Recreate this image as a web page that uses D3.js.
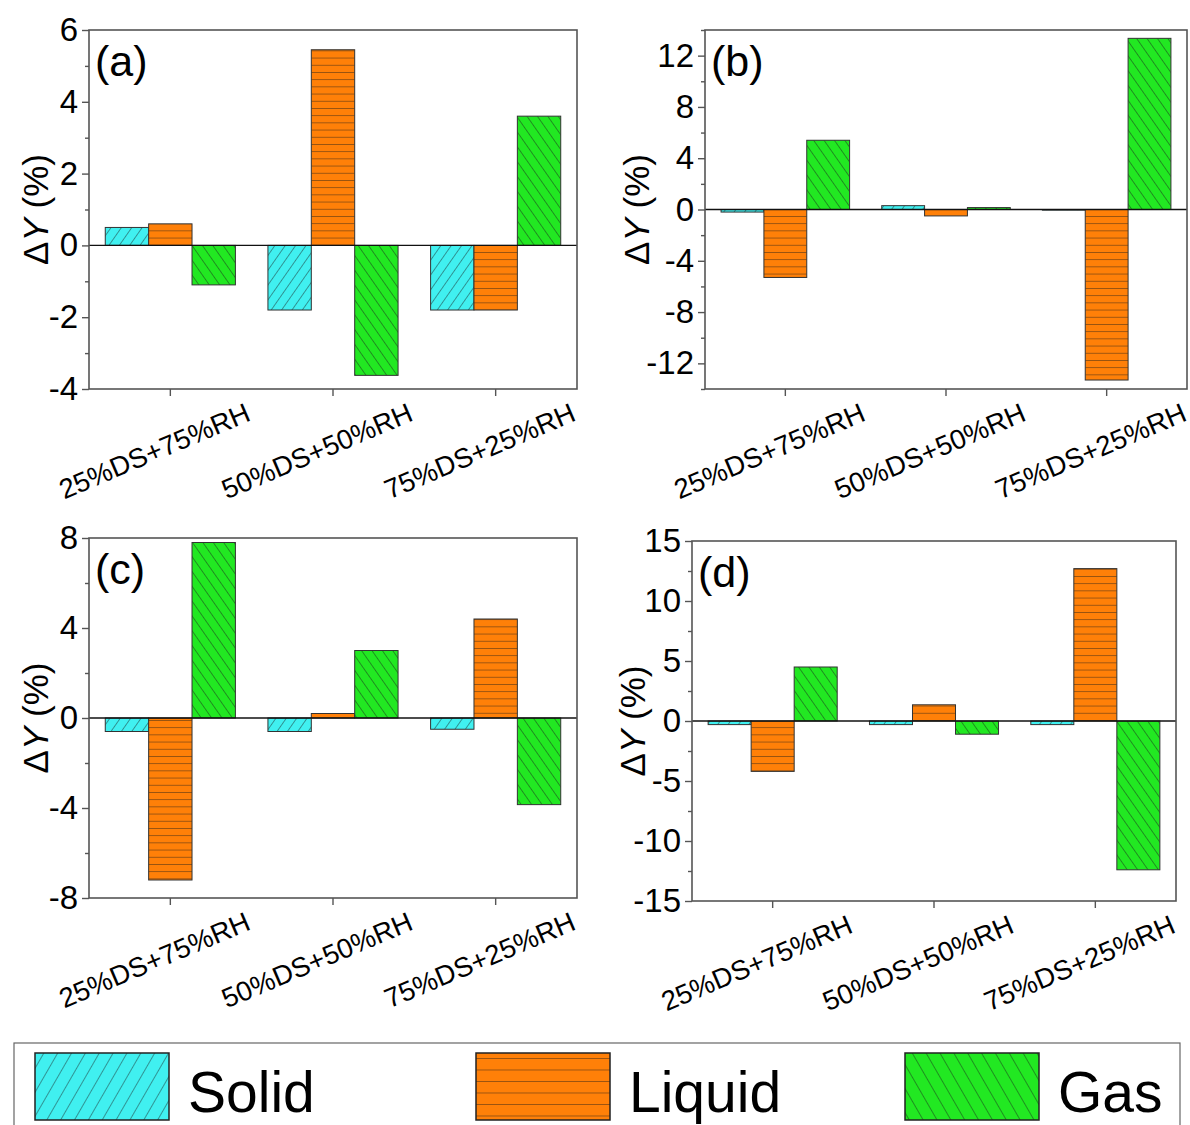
<!DOCTYPE html>
<html>
<head>
<meta charset="utf-8">
<script src="https://cdn.jsdelivr.net/npm/d3@7"></script>
<style>
  body { margin: 0; background: #fff; }
  text { font-family: "Liberation Sans", Arial, sans-serif; fill: #000; }
</style>
</head>
<body>
<div id="chart"></div>
<script>
// grouped bar charts, 4 panels, hatched bars

let categories = ["25%DS+75%RH", "50%DS+50%RH", "75%DS+25%RH"];
let seriesNames = ["Solid", "Liquid", "Gas"];
let panelLabels = ["(a)", "(b)", "(c)", "(d)"];

// values
let solidA = [0.5, -1.8, -1.8];
let liquidA = [0.6, 5.45, -1.8];
let gasA = [-1.1, -3.62, 3.6];

let solidB = [-0.2, 0.3, -0.05];
let liquidB = [-5.3, -0.5, -13.3];
let gasB = [5.4, 0.15, 13.35];

let solidC = [-0.6, -0.6, -0.5];
let liquidC = [-7.2, 0.2, 4.4];
let gasC = [7.8, 3.0, -3.85];

let solidD = [-0.3, -0.3, -0.3];
let liquidD = [-4.2, 1.35, 12.7];
let gasD = [4.5, -1.1, -12.4];

let yDomains = [[-4, 6], [-14, 14], [-8, 8], [-15, 15]];
let yMajorTicks = [[-4, -2, 0, 2, 4, 6], [-12, -8, -4, 0, 4, 8, 12], [-8, -4, 0, 4, 8], [-15, -10, -5, 0, 5, 10, 15]];
let yMinorStep = [1, 2, 2, 2.5];

let panelData = [
  [solidA, liquidA, gasA],
  [solidB, liquidB, gasB],
  [solidC, liquidC, gasC],
  [solidD, liquidD, gasD]
];

let colors = { Solid: "#40F0F0", Liquid: "#FF8008", Gas: "#22E822" };

// panel boxes (left, right, top, bottom) and y-title x
let boxes = [
  { l: 89, r: 577, t: 30, b: 389, tx: 35 },
  { l: 705, r: 1187, t: 30, b: 389, tx: 636 },
  { l: 89, r: 577, t: 538, b: 898, tx: 35 },
  { l: 692, r: 1176, t: 541, b: 901, tx: 632 }
];

let svgWidth = 1190;
let svgHeight = 1125;

let svg = d3.select("#chart")
  .append("svg")
  .attr("width", svgWidth)
  .attr("height", svgHeight);

svg.append("rect").attr("width", svgWidth).attr("height", svgHeight).attr("fill", "#fff");

// hatch patterns
let defs = svg.append("defs");
function makePattern(id, name, size, angle) {
  let p = defs.append("pattern")
    .attr("id", id)
    .attr("patternUnits", "userSpaceOnUse")
    .attr("width", size)
    .attr("height", size)
    .attr("patternTransform", `rotate(${angle})`);
  p.append("rect").attr("width", size).attr("height", size).attr("fill", colors[name]);
  p.append("line")
    .attr("x1", 0).attr("y1", 0).attr("x2", size).attr("y2", 0)
    .attr("stroke", "#1a1a1a").attr("stroke-width", 1).attr("stroke-opacity", 0.85);
}
makePattern("hatch-Solid", "Solid", 8.5, -55);
makePattern("hatch-Liquid", "Liquid", 7.2, 0);
makePattern("hatch-Gas", "Gas", 8.5, 55);
makePattern("legend-Solid", "Solid", 12, -60);
makePattern("legend-Liquid", "Liquid", 11.5, 0);
makePattern("legend-Gas", "Gas", 12, 60);

panelData.forEach(function(series, i) {
  let box = boxes[i];
  let g = svg.append("g");

  let x0 = d3.scaleBand()
    .domain(categories)
    .range([box.l, box.r])
    .paddingInner(0.2)
    .paddingOuter(0.1);

  let x1 = d3.scaleBand()
    .domain(seriesNames)
    .range([0, x0.bandwidth()]);

  let y = d3.scaleLinear()
    .domain(yDomains[i])
    .range([box.b, box.t]);

  // bars
  let rows = [];
  categories.forEach(function(c, ci) {
    seriesNames.forEach(function(s, si) {
      rows.push({ cat: c, name: s, value: series[si][ci] });
    });
  });

  g.selectAll("rect.bar")
    .data(rows)
    .enter()
    .append("rect")
    .attr("class", "bar")
    .attr("x", d => x0(d.cat) + x1(d.name))
    .attr("y", d => y(Math.max(0, d.value)))
    .attr("width", x1.bandwidth())
    .attr("height", d => Math.abs(y(d.value) - y(0)))
    .attr("fill", d => `url(#hatch-${d.name})`)
    .attr("stroke", "#333")
    .attr("stroke-width", 1);

  // zero line
  g.append("line")
    .attr("x1", box.l).attr("x2", box.r)
    .attr("y1", y(0)).attr("y2", y(0))
    .attr("stroke", "#111").attr("stroke-width", 1.3);

  // frame
  g.append("rect")
    .attr("x", box.l).attr("y", box.t)
    .attr("width", box.r - box.l).attr("height", box.b - box.t)
    .attr("fill", "none").attr("stroke", "#555").attr("stroke-width", 1.6);

  // y axis: major + minor ticks
  let minors = d3.range(yDomains[i][0], yDomains[i][1] + 0.001, yMinorStep[i])
    .filter(v => yMajorTicks[i].indexOf(v) < 0);

  let yMinor = g.append("g")
    .attr("transform", `translate(${box.l},0)`)
    .call(d3.axisLeft(y).tickValues(minors).tickSize(4).tickFormat(""));
  yMinor.select(".domain").remove();
  yMinor.selectAll("line").attr("stroke", "#555").attr("stroke-width", 1.4);

  let yAxis = g.append("g")
    .attr("transform", `translate(${box.l},0)`)
    .call(d3.axisLeft(y).tickValues(yMajorTicks[i]).tickSize(7).tickPadding(4).tickFormat(d => String(d)));
  yAxis.select(".domain").remove();
  yAxis.selectAll("line").attr("stroke", "#555").attr("stroke-width", 1.4);
  yAxis.selectAll("text")
    .attr("font-size", "33px")
    .attr("font-family", "Liberation Sans, Arial, sans-serif")
    .attr("fill", "#000");

  // x axis
  let xAxis = g.append("g")
    .attr("transform", `translate(0,${box.b})`)
    .call(d3.axisBottom(x0).tickSize(7).tickFormat(""));
  xAxis.select(".domain").remove();
  xAxis.selectAll("line").attr("stroke", "#555").attr("stroke-width", 1.4);

  g.selectAll("text.xlab")
    .data(categories)
    .enter()
    .append("text")
    .attr("class", "xlab")
    .attr("text-anchor", "middle")
    .attr("dominant-baseline", "central")
    .attr("font-size", "27.5px")
    .attr("transform", d => `translate(${x0(d) + x0.bandwidth() / 2 - 16},${box.b + 62}) rotate(-23)`)
    .text(d => d);

  // y title
  let yt = g.append("text")
    .attr("transform", `translate(${box.tx},${(box.t + box.b) / 2}) rotate(-90)`)
    .attr("text-anchor", "middle")
    .attr("dominant-baseline", "central")
    .attr("font-size", "35px");
  yt.append("tspan").text("\u0394");
  yt.append("tspan").attr("font-style", "italic").text("Y");
  yt.append("tspan").text(" (%)");

  // panel label
  g.append("text")
    .attr("x", box.l + 6)
    .attr("y", box.t + 46)
    .attr("font-size", "43px")
    .text(panelLabels[i]);
});

// legend
let legend = svg.append("g");
legend.append("rect")
  .attr("x", 14).attr("y", 1043)
  .attr("width", 1166).attr("height", 100)
  .attr("fill", "#fff").attr("stroke", "#666").attr("stroke-width", 1.2);

let legendX = [35, 476, 905];
legend.selectAll("g.item")
  .data(seriesNames)
  .enter()
  .append("g")
  .attr("class", "item")
  .each(function(d, i) {
    let item = d3.select(this);
    item.append("rect")
      .attr("x", legendX[i]).attr("y", 1053)
      .attr("width", 134).attr("height", 67)
      .attr("fill", `url(#legend-${d})`)
      .attr("stroke", "#222").attr("stroke-width", 1.5);
    item.append("text")
      .attr("x", legendX[i] + 153)
      .attr("y", 1112)
      .attr("font-size", "57px")
      .text(d);
  });
</script>
</body>
</html>
